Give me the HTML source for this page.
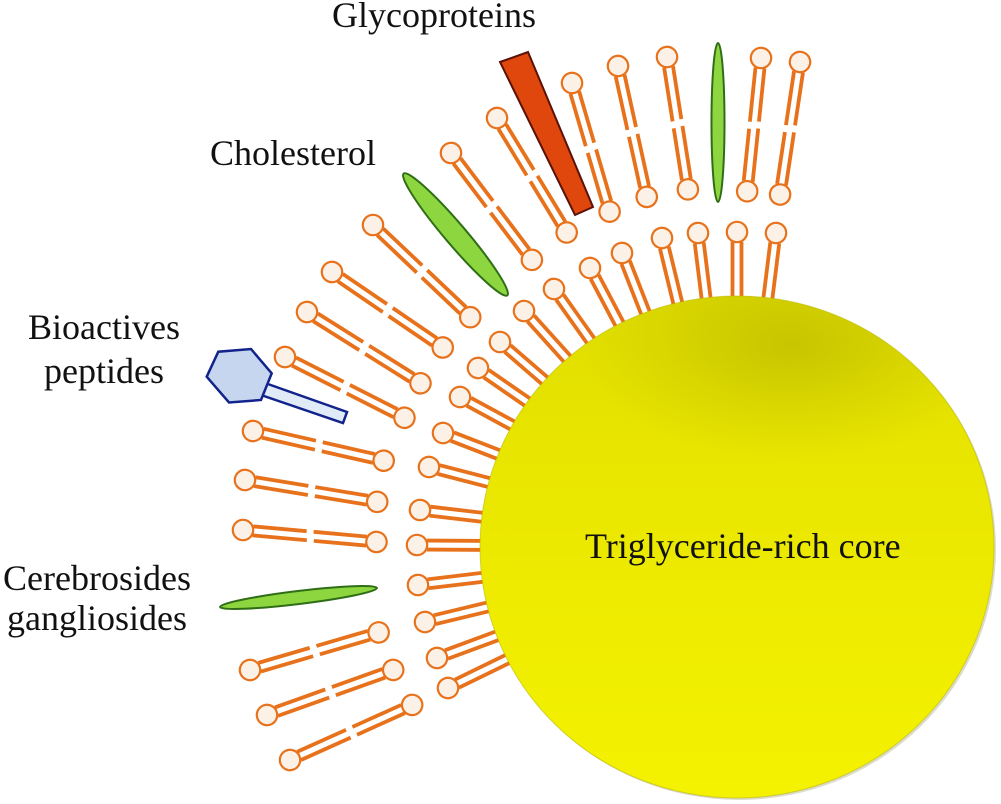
<!DOCTYPE html>
<html>
<head>
<meta charset="utf-8">
<style>
  html, body { margin: 0; padding: 0; background: #ffffff; }
  svg { display: block; }
  text { font-family: "Liberation Serif", "Times New Roman", serif; font-size: 36px; fill: #111; }
</style>
</head>
<body>
<svg width="1001" height="804" viewBox="0 0 1001 804" xmlns="http://www.w3.org/2000/svg">
  <defs>
    <g id="om">
      <path d="M10 -4.5 H63.5 M70.5 -4.5 H124 M10 4.5 H64.5 M71.5 4.5 H124" stroke="#E8721C" stroke-width="3.8" fill="none"/>
      <circle cx="0" cy="0" r="10.2" fill="#FCF1E6" stroke="#E8721C" stroke-width="2.2"/>
      <circle cx="134" cy="0" r="10.2" fill="#FCF1E6" stroke="#E8721C" stroke-width="2.2"/>
    </g>
    <g id="im">
      <path d="M10 -4.5 H150 M10 4.5 H150" stroke="#E8721C" stroke-width="3.8" fill="none"/>
      <circle cx="0" cy="0" r="10.2" fill="#FCF1E6" stroke="#E8721C" stroke-width="2.2"/>
    </g>
    <linearGradient id="coreLin" x1="0" y1="0" x2="0" y2="1">
      <stop offset="0" stop-color="#e0dd00"/>
      <stop offset="0.3" stop-color="#e8e500"/>
      <stop offset="0.6" stop-color="#eeeb00"/>
      <stop offset="1" stop-color="#f4f200"/>
    </linearGradient>
    <radialGradient id="blob" cx="0.5" cy="0.5" r="0.5">
      <stop offset="0" stop-color="#a09c00" stop-opacity="0.4"/>
      <stop offset="0.6" stop-color="#a09c00" stop-opacity="0.15"/>
      <stop offset="1" stop-color="#a09c00" stop-opacity="0"/>
    </radialGradient>
    <clipPath id="coreClip">
      <ellipse cx="737" cy="547" rx="257" ry="251"/>
    </clipPath>
  </defs>

  <!-- inner layer -->
  <use href="#im" transform="translate(776,233) rotate(97.08)"/>
  <use href="#im" transform="translate(737,232) rotate(90)"/>
  <use href="#im" transform="translate(698,233) rotate(82.92)"/>
  <use href="#im" transform="translate(662,238) rotate(76.36)"/>
  <use href="#im" transform="translate(622,253) rotate(68.63)"/>
  <use href="#im" transform="translate(590,268) rotate(62.22)"/>
  <use href="#im" transform="translate(554,289) rotate(54.65)"/>
  <use href="#im" transform="translate(524,311) rotate(47.93)"/>
  <use href="#im" transform="translate(500,342) rotate(40.86)"/>
  <use href="#im" transform="translate(478,368) rotate(34.65)"/>
  <use href="#im" transform="translate(460,397) rotate(28.44)"/>
  <use href="#im" transform="translate(443,433) rotate(21.19)"/>
  <use href="#im" transform="translate(429,467) rotate(14.56)"/>
  <use href="#im" transform="translate(420,510) rotate(6.66)"/>
  <use href="#im" transform="translate(417,545) rotate(0.36)"/>
  <use href="#im" transform="translate(418,585) rotate(-6.79)"/>
  <use href="#im" transform="translate(425,622) rotate(-13.52)"/>
  <use href="#im" transform="translate(437,658) rotate(-20.3)"/>
  <use href="#im" transform="translate(448,688) rotate(-26)"/>

  <!-- outer layer -->
  <use href="#om" transform="translate(800,62) rotate(98.55)"/>
  <use href="#om" transform="translate(761,58) rotate(95.92)"/>
  <use href="#om" transform="translate(667,57) rotate(81.03)"/>
  <use href="#om" transform="translate(618,66) rotate(77.61)"/>
  <use href="#om" transform="translate(572,83) rotate(73.71)"/>
  <use href="#om" transform="translate(497,118) rotate(58.67)"/>
  <use href="#om" transform="translate(451,153) rotate(52.87)"/>
  <use href="#om" transform="translate(373,225) rotate(43.48)"/>
  <use href="#om" transform="translate(332,272) rotate(34.29)"/>
  <use href="#om" transform="translate(307,312) rotate(32.14)"/>
  <use href="#om" transform="translate(285,357) rotate(26.95)"/>
  <use href="#om" transform="translate(253,431) rotate(12.8)"/>
  <use href="#om" transform="translate(245,480) rotate(9.39)"/>
  <use href="#om" transform="translate(243,530) rotate(5.12)"/>
  <use href="#om" transform="translate(250,670) rotate(-16.29)"/>
  <use href="#om" transform="translate(267,715) rotate(-19.65)"/>
  <use href="#om" transform="translate(290,760) rotate(-24.27)"/>

  <!-- core -->
  <ellipse cx="739" cy="549" rx="257" ry="251" fill="#9a9a70" opacity="0.35"/>
  <ellipse cx="737" cy="547" rx="257" ry="251" fill="url(#coreLin)"/>
  <g clip-path="url(#coreClip)">
    <ellipse cx="790" cy="345" rx="210" ry="115" fill="url(#blob)"/>
  </g>
  <ellipse cx="737" cy="547" rx="257" ry="251" fill="none" stroke="#bdb900" stroke-width="1" opacity="0.6"/>

  <!-- cholesterol / glycolipids -->
  <ellipse cx="718" cy="122.5" rx="6.5" ry="79.5" fill="#8ED640" stroke="#2f6e17" stroke-width="2"/>
  <ellipse cx="455.5" cy="234.5" rx="80" ry="10.5" transform="rotate(49.6 455.5 234.5)" fill="#8ED640" stroke="#2f6e17" stroke-width="2"/>
  <ellipse cx="298.5" cy="597.5" rx="79" ry="6.5" transform="rotate(-6.9 298.5 597.5)" fill="#8ED640" stroke="#2f6e17" stroke-width="2"/>

  <!-- glycoprotein -->
  <polygon points="500,62 528,52 593,207 575,215" fill="#E0470C" stroke="#5a1208" stroke-width="2"/>

  <!-- peptide -->
  <polygon points="265,383 347,412 343,423 261,395" fill="#e0ebf7" stroke="#12238c" stroke-width="2.5"/>
  <polygon points="206.7,376.7 218.3,351.7 251,349 271.7,373.3 261,400 229,402.5" fill="#c6d6ef" stroke="#12238c" stroke-width="2.5" stroke-linejoin="miter"/>

  <!-- labels -->
  <text x="332" y="27">Glycoproteins</text>
  <text x="210" y="165">Cholesterol</text>
  <text x="104" y="339" text-anchor="middle">Bioactives</text>
  <text x="104" y="383" text-anchor="middle">peptides</text>
  <text x="97" y="590" text-anchor="middle">Cerebrosides</text>
  <text x="97" y="630" text-anchor="middle">gangliosides</text>
  <text x="585" y="558">Triglyceride-rich core</text>
</svg>
</body>
</html>
